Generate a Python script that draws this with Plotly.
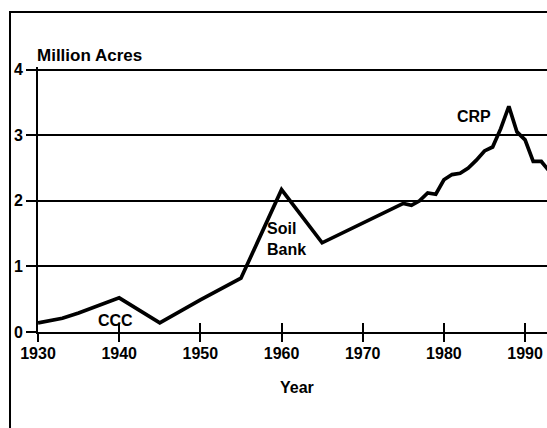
import plotly.graph_objects as go

years = [1930, 1933, 1935, 1940, 1945, 1950, 1955, 1960, 1965, 1970, 1975, 1976, 1977,
         1978, 1979, 1980, 1981, 1982, 1983, 1984, 1985, 1986, 1987, 1988, 1989, 1990,
         1991, 1992, 1993]
acres = [0.14, 0.21, 0.29, 0.52, 0.14, 0.49, 0.82, 2.17, 1.36, 1.66, 1.96, 1.93, 2.0,
         2.12, 2.1, 2.32, 2.4, 2.42, 2.5, 2.62, 2.76, 2.82, 3.1, 3.44, 3.05, 2.93,
         2.6, 2.6, 2.45]

x_ticks = [1930, 1940, 1950, 1960, 1970, 1980, 1990]
y_ticks = [0, 1, 2, 3, 4]

labels = ["CCC", "Soil<br>Bank", "CRP"]
label_x = [1939.5, 1958.0, 1983.7]
label_y = [0.18, 1.42, 3.28]
label_anchor = ["center", "left", "center"]

FONT = "Liberation Sans, Arial, Helvetica, sans-serif"

fig = go.Figure()
fig.add_trace(go.Scatter(x=years, y=acres, mode="lines",
                         line=dict(color="black", width=3.7),
                         hoverinfo="skip", showlegend=False))
fig.add_trace(go.Scatter(x=years, y=acres, mode="lines", xaxis="x2",
                         line=dict(color="rgba(0,0,0,0)", width=0),
                         hoverinfo="skip", showlegend=False))

for t, x, y, a in zip(labels, label_x, label_y, label_anchor):
    fig.add_annotation(x=x, y=y, text="<b>" + t + "</b>", showarrow=False,
                       xanchor=a, yanchor="middle", align="left",
                       font=dict(family=FONT, size=16, color="black"))

fig.add_annotation(xref="paper", yref="paper", x=0, y=1.045, xshift=-3,
                   text="<b>Million Acres</b>", showarrow=False,
                   xanchor="left", yanchor="middle",
                   font=dict(family=FONT, size=17, color="black"))
fig.add_annotation(xref="paper", yref="paper", x=0.509, y=-0.211,
                   text="<b>Year</b>", showarrow=False,
                   xanchor="center", yanchor="middle",
                   font=dict(family=FONT, size=16, color="black"))

# border frame
fig.add_shape(type="rect", xref="paper", yref="paper",
              x0=-0.055, x1=1.2, y0=-0.5, y1=1.2075,
              line=dict(color="black", width=2), layer="above")

fig.update_layout(
    width=547, height=428,
    margin=dict(l=38, r=0, t=67, b=96),
    paper_bgcolor="white", plot_bgcolor="white",
    font=dict(family=FONT, size=16, color="black"),
    xaxis=dict(range=[1930, 1992.7], tickvals=x_ticks,
               ticktext=["<b>%d</b>" % v for v in x_ticks],
               showgrid=False, zeroline=False, showline=True,
               linecolor="black", linewidth=2,
               ticks="outside", ticklen=8, tickwidth=2, tickcolor="black",
               ticklabelstandoff=-2),
    xaxis2=dict(range=[1930, 1992.7], overlaying="x", anchor="y", side="bottom",
                tickvals=x_ticks, showticklabels=False, showgrid=False,
                zeroline=False, showline=False,
                ticks="inside", ticklen=9, tickwidth=2, tickcolor="black"),
    yaxis=dict(range=[0, 4.04], tickvals=y_ticks,
               ticktext=["<b>%d</b>" % v for v in y_ticks],
               showgrid=True, gridcolor="black", gridwidth=1.5,
               zeroline=False, showline=True, linecolor="black", linewidth=2,
               ticks="outside", ticklen=10, tickwidth=1.5, tickcolor="black",
               ticklabelstandoff=0),
)

fig.write_html("out.html", config={"displayModeBar": False},
               post_script="document.body.style.margin='0';")
